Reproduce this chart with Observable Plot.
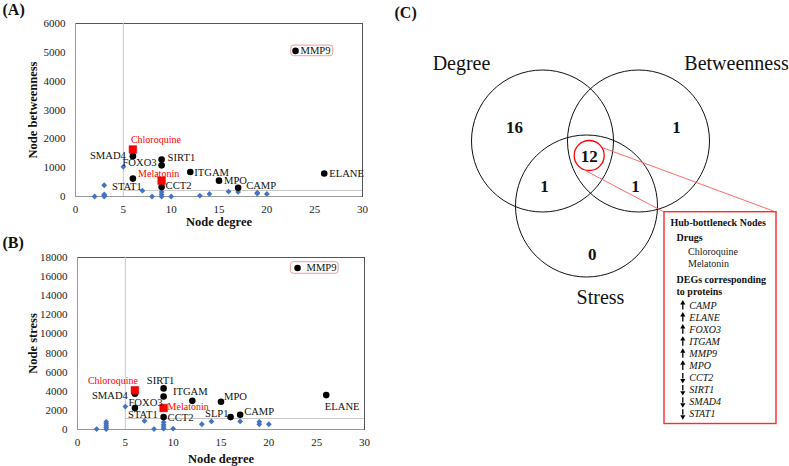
<!DOCTYPE html>
<html>
<head>
<meta charset="utf-8">
<script src="https://cdn.jsdelivr.net/npm/d3@7"></script>
<script src="https://cdn.jsdelivr.net/npm/@observablehq/plot@0.6"></script>
<style>
  html, body { margin: 0; padding: 0; background: #fff; }
  #wrap { position: relative; width: 789px; height: 466px; overflow: hidden; background: #fff;
          font-family: 'Liberation Serif','Times New Roman',Times,serif; }
  #wrap > div { position: absolute; }
  #wrap svg, #wrap svg text { font-family: 'Liberation Serif','Times New Roman',Times,serif; }
</style>
</head>
<body>
<div id="wrap">
  <div id="pa" style="left:0;top:0"></div>
  <div id="pb" style="left:0;top:230px"></div>
  <div id="pc" style="left:390px;top:0"></div>
</div>
<script>
// ---------------- DATA ----------------
const xTicks = [0, 5, 10, 15, 20, 25, 30];
const yTicksA = [0, 1000, 2000, 3000, 4000, 5000, 6000];
const yTicksB = [0, 2000, 4000, 6000, 8000, 10000, 12000, 14000, 16000, 18000];

const degreeThreshold = 5;
const betweennessThreshold = 210;
const stressThreshold = 1150;

// Panel A: hub-bottleneck nodes
const hubNamesA = ["MMP9", "SMAD4", "FOXO3", "SIRT1", "STAT1", "CCT2", "ITGAM", "MPO", "CAMP", "ELANE"];
const hubDegreeA = [23, 6, 9, 9, 6, 9, 12, 15, 17, 26];
const hubBetweenness = [5050, 1400, 1080, 1280, 620, 330, 850, 550, 300, 800];

// Panel B: hub nodes by stress
const hubNamesB = ["MMP9", "SMAD4", "FOXO3", "SIRT1", "STAT1", "CCT2", "ITGAM", "MPO", "SLP1", "CAMP", "ELANE"];
const hubDegreeB = [23, 6, 9, 9, 6, 9, 12, 15, 16, 17, 26];
const hubStress = [16900, 3750, 3450, 4300, 2250, 1300, 3000, 2900, 1300, 1550, 3600];

// Drugs
const drugNames = ["Chloroquine", "Melatonin"];
const drugDegree = [6, 9];
const drugBetweenness = [1630, 550];
const drugStress = [4100, 2250];

// Other (non-hub) nodes
const otherDegreeA = [2, 3, 3, 3, 3, 5, 7, 8, 9, 9, 9, 10, 13, 14, 16, 17, 19, 19, 20];
const otherBetweenness = [0, 390, 70, 30, 0, 1030, 200, 0, 160, 70, 0, 0, 30, 90, 170, 160, 130, 100, 90];
const otherDegreeB = [2, 3, 3, 3, 3, 3, 5, 7, 8, 9, 9, 9, 9, 10, 13, 14, 17, 19, 19, 20];
const otherStress = [50, 800, 600, 400, 200, 30, 2400, 900, 50, 750, 500, 280, 80, 80, 550, 850, 850, 800, 550, 550];

// Venn diagram
const vennSets = ["Degree", "Betweenness", "Stress"];
const vennRegions = ["Degree only", "Betweenness only", "All three", "Degree ∩ Stress", "Betweenness ∩ Stress", "Stress only"];
const vennCounts = [16, 1, 12, 1, 1, 0];

const boxTitle = "Hub-bottleneck Nodes";
const boxDrugHeader = "Drugs";
const boxDegHeader = ["DEGs corresponding", "to proteins"];
const degGenes = ["CAMP", "ELANE", "FOXO3", "ITGAM", "MMP9", "MPO", "CCT2", "SIRT1", "SMAD4", "STAT1"];
const degDirection = ["up", "up", "up", "up", "up", "up", "down", "down", "down", "down"];

// ---------------- STYLE / LAYOUT ----------------
const FONT = "'Liberation Serif','Times New Roman',Times,serif";
const STYLE = `font-family: ${FONT}; font-size: 11px; color: #222; background: transparent; overflow: visible;`;
const BLUE = "#4472c4";
const RED = "#ff0000";

// label placements: [textAnchor, dx, dy]
const labelPosA = {
  MMP9: ["start", 5, 0], SMAD4: ["end", -7, -1], FOXO3: ["end", -5, -3], SIRT1: ["start", 6, -2],
  STAT1: ["middle", -6, 8], CCT2: ["start", 4, -1], ITGAM: ["start", 4, 1], MPO: ["start", 5, 0],
  CAMP: ["start", 8, -2], ELANE: ["start", 5, 0],
  Chloroquine: ["start", -2, -10], Melatonin: ["middle", -3, -7]
};
const labelPosB = {
  MMP9: ["start", 9, 0], SMAD4: ["end", -7, 2], FOXO3: ["end", -1, 6], SIRT1: ["middle", -3, -8],
  STAT1: ["middle", 8, 7], CCT2: ["start", 4, 1], ITGAM: ["middle", -2, -9], MPO: ["start", 3, -5],
  SLP1: ["end", -2, -3], CAMP: ["start", 4, -3], ELANE: ["middle", 16, 11],
  Chloroquine: ["end", 3, -10], Melatonin: ["start", 4, -1]
};

function scatter(cfg) {
  const others = cfg.otherX.map((x, i) => ({x, y: cfg.otherY[i]}));
  const hubs = cfg.hubN.map((name, i) => ({name, x: cfg.hubX[i], y: cfg.hubY[i]}));
  const drugs = drugNames.map((name, i) => ({name, x: drugDegree[i], y: cfg.drugY[i]}));
  const mmp = hubs.filter(d => d.name === "MMP9");
  const labels = [];
  for (const d of hubs) {
    const [a, dx, dy] = cfg.pos[d.name];
    labels.push(Plot.text([d], {x: "x", y: "y", text: "name", textAnchor: a, dx, dy, fill: "#111", fontSize: 10.6, fontFamily: FONT}));
  }
  for (const d of drugs) {
    const [a, dx, dy] = cfg.pos[d.name];
    labels.push(Plot.text([d], {x: "x", y: "y", text: "name", textAnchor: a, dx, dy, fill: RED, fontSize: 10, fontFamily: FONT}));
  }
  return Plot.plot({
    width: cfg.W, height: cfg.H,
    marginTop: cfg.mt, marginRight: cfg.mr, marginBottom: cfg.mb, marginLeft: cfg.ml,
    style: STYLE,
    x: {domain: [0, 30], ticks: xTicks, tickSize: 0, tickPadding: 9, tickFormat: d => String(d), label: null},
    y: {domain: cfg.yDomain, ticks: cfg.yTicks, tickSize: 0, tickPadding: 10, tickFormat: d => String(d), label: null},
    marks: [
      Plot.frame({stroke: "#555"}),
      Plot.ruleX([degreeThreshold], {stroke: "#c8c8c8"}),
      Plot.ruleY([cfg.thr], {x1: () => degreeThreshold, x2: () => 30, stroke: "#c8c8c8"}),
      Plot.ruleX([0], {stroke: "#999"}),
      Plot.ruleY([0], {stroke: "#999"}),
      Plot.rect(mmp, {x1: d => d.x + cfg.box[0], x2: d => d.x + cfg.box[1], y1: d => d.y + cfg.box[2], y2: d => d.y + cfg.box[3], rx: 3, fill: "white", stroke: "#f29a9a"}),
      Plot.dot(others, {x: "x", y: "y", symbol: "diamond2", r: 2.6, fill: BLUE}),
      Plot.dot(hubs, {x: "x", y: "y", r: 3.3, fill: "black"}),
      Plot.dot(drugs, {x: "x", y: "y", symbol: "square", r: 4.3, fill: RED, stroke: "#c00000", strokeWidth: 0.5}),
      ...labels,
      Plot.text([cfg.yLabel], {text: d => d, frameAnchor: "left", textAnchor: "middle", lineAnchor: "middle", dx: cfg.yLabelDx, rotate: -90, fontWeight: "bold", fontSize: 12.5, fill: "#111", fontFamily: FONT}),
      Plot.text(["Node degree"], {text: d => d, frameAnchor: "bottom", textAnchor: "middle", lineAnchor: "middle", dy: cfg.xLabelDy, fontWeight: "bold", fontSize: 12.5, fill: "#111", fontFamily: FONT}),
      Plot.text([cfg.panel], {text: d => d, frameAnchor: "top-left", textAnchor: "start", lineAnchor: "middle", dx: cfg.panelDx, dy: cfg.panelDy, fontWeight: "bold", fontSize: 16, fill: "#111", fontFamily: FONT})
    ]
  });
}

document.getElementById("pa").append(scatter({
  W: 400, H: 230, mt: 23, mr: 38, mb: 34, ml: 75,
  yDomain: [0, 6000], yTicks: yTicksA, thr: betweennessThreshold,
  otherX: otherDegreeA, otherY: otherBetweenness,
  hubN: hubNamesA, hubX: hubDegreeA, hubY: hubBetweenness, drugY: drugBetweenness,
  pos: labelPosA, box: [-0.45, 3.95, -185, 185],
  yLabel: "Node betweenness", yLabelDx: -43, xLabelDy: 25,
  panel: "(A)", panelDx: -73, panelDy: -14
}));

document.getElementById("pb").append(scatter({
  W: 400, H: 236, mt: 27, mr: 36, mb: 37, ml: 77,
  yDomain: [0, 18000], yTicks: yTicksB, thr: stressThreshold,
  otherX: otherDegreeB, otherY: otherStress,
  hubN: hubNamesB, hubX: hubDegreeB, hubY: hubStress, drugY: drugStress,
  pos: labelPosB, box: [-0.7, 4.3, -605, 605],
  yLabel: "Node stress", yLabelDx: -45, xLabelDy: 29,
  panel: "(B)", panelDx: -75, panelDy: -15
}));

// ---------------- VENN (C) ----------------
const circleLayout = [
  {set: vennSets[0], cx: 152, cy: 140.5, lx: 71, ly: 63},
  {set: vennSets[1], cx: 248, cy: 140.5, lx: 346, ly: 63},
  {set: vennSets[2], cx: 196, cy: 205.5, lx: 210, ly: 297}
];
const regionLayout = [[124, 127], [286, 127], [198.7, 156], [154, 186], [245, 186], [201.7, 254]];
const circles = circleLayout;
const regions = vennRegions.map((r, i) => ({region: r, count: vennCounts[i], x: regionLayout[i][0], y: regionLayout[i][1]}));
const hubRegion = regions[2];

const boxX1 = 274, boxX2 = 386, boxY1 = 211.7, boxY2 = 423.5;
const boldRows = [
  {t: boxTitle, x: 280, y: 222.5},
  {t: boxDrugHeader, x: 286, y: 237.3},
  {t: boxDegHeader[0], x: 286, y: 279},
  {t: boxDegHeader[1], x: 286, y: 291}
];
const drugRows = drugNames.map((d, i) => ({t: d, x: 297.5, y: 251.7 + i * 11.8}));
const geneRows = degGenes.map((g, i) => ({gene: g, dir: degDirection[i], y: 305 + i * 12.08}));
const arrowX = 292.3;

const venn = Plot.plot({
  width: 399, height: 466, margin: 0,
  style: STYLE,
  x: {domain: [0, 399], range: [0, 399], axis: null},
  y: {domain: [0, 466], range: [0, 466], axis: null},
  marks: [
    Plot.dot(circles, {x: "cx", y: "cy", r: 71, stroke: "#111", strokeWidth: 1, fill: "none"}),
    Plot.text(circles, {x: "lx", y: "ly", text: "set", fontSize: 20, fill: "#111", fontFamily: FONT}),
    Plot.text(regions, {x: "x", y: "y", text: d => String(d.count), fontSize: 17, fontWeight: "bold", fill: "#111", fontFamily: FONT}),
    Plot.dot([hubRegion], {x: "x", y: d => d.y - 1, r: 15, stroke: RED, strokeWidth: 1.3, fill: "none"}),
    Plot.link([hubRegion], {x1: d => d.x + 13, y1: d => d.y - 9, x2: () => boxX2, y2: () => boxY1, stroke: "#ff5a5a", strokeWidth: 0.9}),
    Plot.link([hubRegion], {x1: d => d.x - 3, y1: d => d.y + 14.5, x2: () => boxX1, y2: () => boxY1, stroke: "#ff5a5a", strokeWidth: 0.9}),
    Plot.rect([hubRegion], {x1: () => boxX1, x2: () => boxX2, y1: () => boxY1, y2: () => boxY2, fill: "white", stroke: "#ff2a2a", strokeWidth: 1.4}),
    Plot.text(boldRows, {x: "x", y: "y", text: "t", textAnchor: "start", fontSize: 10, fontWeight: "bold", fill: "#111", fontFamily: FONT}),
    Plot.text(drugRows, {x: "x", y: "y", text: "t", textAnchor: "start", fontSize: 10, fill: "#222", fontFamily: FONT}),
    Plot.text(geneRows, {x: () => arrowX + 6.5, y: "y", text: "gene", textAnchor: "start", fontSize: 10, fontStyle: "italic", fill: "#111", fontFamily: FONT}),
    Plot.ruleX(geneRows, {x: () => arrowX, y1: d => d.dir === "up" ? d.y - 1 : d.y - 4.5, y2: d => d.dir === "up" ? d.y + 4.5 : d.y + 1, stroke: "#000", strokeWidth: 1.3}),
    Plot.dot(geneRows, {x: () => arrowX, y: d => d.dir === "up" ? d.y - 2.6 : d.y + 2.6, symbol: "triangle", r: 1.9, fill: "#000", rotate: d => d.dir === "up" ? 0 : 180}),
    Plot.text(["(C)"], {text: d => d, x: () => 4, y: () => 12.5, textAnchor: "start", fontSize: 16, fontWeight: "bold", fill: "#111", fontFamily: FONT})
  ]
});
document.getElementById("pc").append(venn);
</script>
</body>
</html>
